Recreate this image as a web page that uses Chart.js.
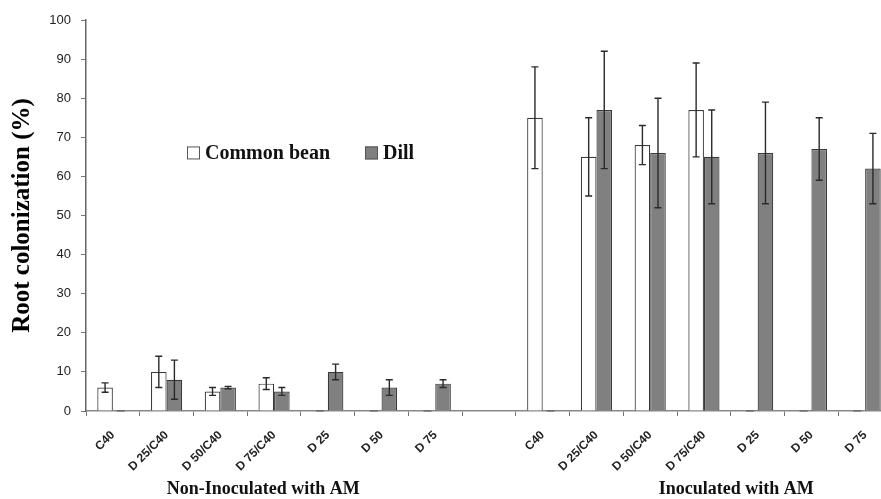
<!DOCTYPE html>
<html>
<head>
<meta charset="utf-8">
<script src="https://cdn.jsdelivr.net/npm/chart.js@4.4.1/dist/chart.umd.min.js"></script>
<style>
  html, body { margin: 0; padding: 0; background: #fff; overflow: hidden; }
  #wrap { width: 881px; height: 499px; overflow: hidden; }
</style>
</head>
<body>
<div id="wrap"><canvas id="c" width="892" height="499"></canvas></div>
<script>
// categories (empty slot separates the two groups)
const categories = ['C40', 'D 25/C40', 'D 50/C40', 'D 75/C40', 'D 25', 'D 50', 'D 75', '',
  'C40', 'D 25/C40', 'D 50/C40', 'D 75/C40', 'D 25', 'D 50', 'D 75'];
const beanValues = [6, 10, 5, 7, 0, 0, 0, null, 75, 65, 68, 77, 0, 0, 0];
const beanErrors = [1.2, 4, 1, 1.5, 0, 0, 0, null, 13, 10, 5, 12, 0, 0, 0];
const dillValues = [0, 8, 6, 5, 10, 6, 7, null, 0, 77, 66, 65, 66, 67, 62];
const dillErrors = [0, 5, 0.3, 1, 2, 2, 1, null, 0, 15, 14, 12, 13, 8, 9];
const yTicks = [0, 10, 20, 30, 40, 50, 60, 70, 80, 90, 100];
const groupLabels = ['Non-Inoculated with AM', 'Inoculated with AM'];
const groupCentres = [2.8, 11.6]; // in category units

// --- error bars ---
const errorBars = {
  id: 'errorBars',
  afterDatasetsDraw(chart) {
    const ctx = chart.ctx, y = chart.scales.y;
    chart.data.datasets.forEach((ds, i) => {
      const meta = chart.getDatasetMeta(i);
      meta.data.forEach((bar, j) => {
        const v = ds.data[j], e = ds.errors[j];
        if (v == null) return;
        ctx.save();
        if (v === 0) {
          // excel leaves a short dark stub on the axis for empty bars
          ctx.strokeStyle = '#555';
          ctx.lineWidth = 1;
          ctx.beginPath();
          ctx.moveTo(bar.x - 4, y.getPixelForValue(0)); ctx.lineTo(bar.x + 4, y.getPixelForValue(0));
          ctx.stroke();
        }
        if (e) {
          const top = y.getPixelForValue(v + e), bot = y.getPixelForValue(v - e);
          ctx.strokeStyle = '#2a2a2a';
          ctx.lineWidth = 1.4;
          ctx.beginPath();
          ctx.moveTo(bar.x, top); ctx.lineTo(bar.x, bot);
          ctx.moveTo(bar.x - 3.5, top); ctx.lineTo(bar.x + 3.5, top);
          ctx.moveTo(bar.x - 3.5, bot); ctx.lineTo(bar.x + 3.5, bot);
          ctx.stroke();
        }
        ctx.restore();
      });
    });
  }
};

// --- legend inside the plot + group labels under the axis ---
const extras = {
  id: 'extras',
  afterDraw(chart) {
    const ctx = chart.ctx, x = chart.scales.x, y = chart.scales.y;
    ctx.save();
    // legend
    let lx = x.left + 101, ly = y.getPixelForValue(66);
    ctx.font = 'bold 20px "Liberation Serif"';
    ctx.textBaseline = 'middle';
    chart.data.datasets.forEach(ds => {
      ctx.fillStyle = ds.backgroundColor;
      ctx.strokeStyle = '#555';
      ctx.lineWidth = 1;
      ctx.fillRect(lx, ly - 6.5, 13, 13);
      ctx.strokeRect(lx + 0.5, ly - 6, 12, 12);
      ctx.fillStyle = '#111';
      ctx.fillText(ds.label, lx + 18, ly + 1);
      lx += 18 + ctx.measureText(ds.label).width + 35;
    });
    // group labels
    ctx.font = 'bold 18px "Liberation Serif"';
    ctx.textAlign = 'center';
    const step = x.width / categories.length;
    groupLabels.forEach((g, i) => {
      ctx.fillText(g, x.left + (groupCentres[i] + 0.5) * step, 489);
    });
    ctx.restore();
  }
};

new Chart(document.getElementById('c'), {
  type: 'bar',
  data: {
    labels: categories,
    datasets: [
      { label: 'Common bean', data: beanValues, errors: beanErrors,
        backgroundColor: '#ffffff', borderColor: '#3a3a3a', borderWidth: 1.2 },
      { label: 'Dill', data: dillValues, errors: dillErrors,
        backgroundColor: '#808080', borderColor: '#3a3a3a', borderWidth: 1.2 }
    ]
  },
  options: {
    responsive: false,
    animation: false,
    layout: { padding: { top: 20, right: 0, left: 0, bottom: 0 } },
    datasets: { bar: { categoryPercentage: 0.58, barPercentage: 1 } },
    plugins: { legend: { display: false }, tooltip: { enabled: false } },
    scales: {
      x: {
        offset: true,
        grid: { display: true, drawOnChartArea: false, offset: true, tickLength: 5, color: '#777' },
        border: { color: '#888', width: 1.5 },
        ticks: { autoSkip: false, minRotation: 45, maxRotation: 45, padding: 12,
          color: '#222', font: { family: 'Liberation Sans', size: 12, weight: 'bold' } },
        afterFit(s) { s.height = 88; }
      },
      y: {
        min: 0, max: 100,
        afterBuildTicks(s) { s.ticks = yTicks.map(v => ({ value: v })); },
        grid: { display: true, drawOnChartArea: false, tickLength: 5, color: '#777' },
        border: { color: '#666', width: 1.5 },
        ticks: { padding: 10, color: '#222', font: { family: 'Liberation Sans', size: 13 } },
        title: { display: true, text: 'Root colonization (%)', color: '#000',
          padding: { top: 8, bottom: 0 },
          font: { family: 'Liberation Serif', size: 25, weight: 'bold' } },
        afterFit(s) { s.width = 86; }
      }
    }
  },
  plugins: [errorBars, extras]
});
</script>
</body>
</html>
